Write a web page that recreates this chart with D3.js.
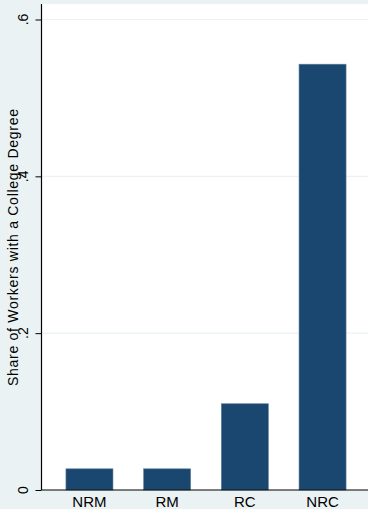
<!DOCTYPE html>
<html>
<head>
<meta charset="utf-8">
<script src="https://cdn.jsdelivr.net/npm/d3@7"></script>
<style>
  html, body { margin: 0; padding: 0; background: #EAF2F3; }
  svg { display: block; }
  text { font-family: "Liberation Sans", Arial, sans-serif; fill: #000; }
</style>
</head>
<body>
<svg id="chart" width="368" height="509"></svg>
<script>
// Share of workers with a college degree, by occupation group
const categories = ["NRM", "RM", "RC", "NRC"];
const shares = [0.027, 0.027, 0.110, 0.543];
const yTicks = [0, 0.2, 0.4, 0.6];
const yTickLabels = ["0", ".2", ".4", ".6"];

const W = 368, H = 509;
const plot = { left: 41.5, right: 368, top: 4, bottom: 490 };

const svg = d3.select("#chart");

svg.append("rect").attr("x", 0).attr("y", 0).attr("width", W).attr("height", H)
  .attr("fill", "#EAF2F3");

// white plot region
svg.append("rect")
  .attr("x", plot.left).attr("y", plot.top)
  .attr("width", plot.right - plot.left).attr("height", plot.bottom - plot.top)
  .attr("fill", "#FFFFFF");

const y = d3.scaleLinear().domain([0, 0.6]).range([plot.bottom, 19.5]);
const x = d3.scaleBand().domain(categories).range([50.6, 361.4])
  .paddingInner(0.395).paddingOuter(0.1975);

// horizontal grid lines
svg.append("g").selectAll("line").data(yTicks.filter(d => d > 0)).join("line")
  .attr("x1", plot.left).attr("x2", plot.right)
  .attr("y1", d => y(d)).attr("y2", d => y(d))
  .attr("stroke", "#EAF2F3").attr("stroke-width", 1.2);

// bars
svg.append("g").selectAll("rect").data(categories).join("rect")
  .attr("x", d => x(d))
  .attr("width", x.bandwidth())
  .attr("y", (d, i) => y(shares[i]))
  .attr("height", (d, i) => y(0) - y(shares[i]))
  .attr("fill", "#1A476F")
  .attr("stroke", "#5F7E9A").attr("stroke-width", 0.6);

// y axis: line and tick marks from the axis generator, labels set upright-rotated
const yAxis = d3.axisLeft(y).tickValues(yTicks).tickFormat("").tickSize(6);
const gy = svg.append("g").attr("transform", `translate(${plot.left},0)`).call(yAxis);
gy.select(".domain").attr("stroke", "#000").attr("stroke-width", 1.2)
  .attr("d", `M0,${plot.top}V${plot.bottom}`);
gy.selectAll(".tick line").attr("stroke", "#000").attr("stroke-width", 1);
gy.selectAll(".tick text").remove();

svg.append("g").selectAll("text").data(yTicks).join("text")
  .attr("transform", d => `translate(27.5,${y(d)}) rotate(-90)`)
  .attr("text-anchor", "middle")
  .attr("font-size", 14)
  .text((d, i) => yTickLabels[i]);

// x axis
const xAxis = d3.axisBottom(x).tickSize(0).tickPadding(6.5);
const gx = svg.append("g").attr("transform", `translate(0,${plot.bottom})`).call(xAxis);
gx.select(".domain").attr("stroke", "#000").attr("stroke-width", 1.2)
  .attr("d", `M${plot.left},0H${plot.right}`);
gx.selectAll(".tick text").attr("font-size", 15).attr("dy", "0.71em");

// y axis title
svg.append("text")
  .attr("transform", `translate(18,${247.5}) rotate(-90)`)
  .attr("text-anchor", "middle")
  .attr("font-size", 14)
  .attr("textLength", 277)
  .attr("lengthAdjust", "spacing")
  .text("Share of Workers with a College Degree");
</script>
</body>
</html>
